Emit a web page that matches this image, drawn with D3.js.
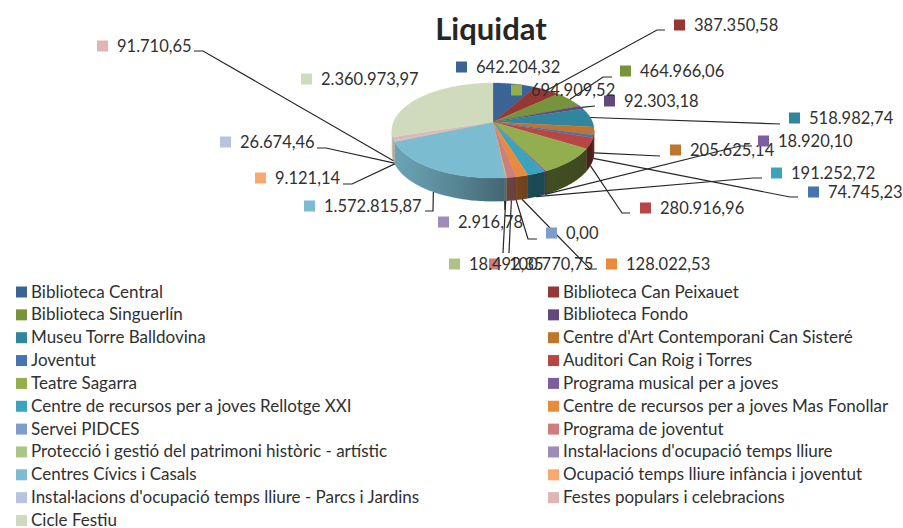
<!DOCTYPE html>
<html><head><meta charset="utf-8">
<script src="https://cdn.jsdelivr.net/npm/d3@7"></script>
<style>html,body{margin:0;padding:0;background:#fff}svg{display:block}</style>
</head><body><div id="c"></div>
<script>
const chartTitle = "Liquidat";
const categories = ["Biblioteca Central","Biblioteca Can Peixauet","Biblioteca Singuerlín","Biblioteca Fondo","Museu Torre Balldovina","Centre d'Art Contemporani Can Sisteré","Joventut","Auditori Can Roig i Torres","Teatre Sagarra","Programa musical per a joves","Centre de recursos per a joves Rellotge XXI","Centre de recursos per a joves Mas Fonollar","Servei PIDCES","Programa de joventut","Protecció i gestió del patrimoni històric - artístic","Instal·lacions d'ocupació temps lliure","Centres Cívics i Casals","Ocupació temps lliure infància i joventut","Instal·lacions d'ocupació temps lliure - Parcs i Jardins","Festes populars i celebracions","Cicle Festiu"];
const values = [642204.32,387350.58,464966.06,92303.18,518982.74,205625.14,74745.23,280916.96,694909.52,18920.10,191252.72,128022.53,0,100770.75,18492.35,2916.78,1572815.87,9121.14,26674.46,91710.65,2360973.97];
const colors = ["#3A6496","#953735","#77933C","#604A7B","#31859C","#C0752E","#4674B0","#B84644","#93AE4E","#7D5E9F","#3BA3BC","#E98B3C","#7F9CCB","#CC7F7C","#ADC487","#9D8BB8","#7BBCD0","#F8A96F","#B7C3DF","#E0B6B5","#CFDBBC"];
// label layout: swatch left, swatch centre y
const labelX = [456,674,620,604,789,670,808,640,511,758,771,606,546,489,449,438,304,255,220,97,301];
const labelY = [67,25,71,101,118,150,192,208,90,141,173,264,233,264,264,222,206,178,142,46,79];
// leader routes after the anchor on the pie
const routes = [null,[[657,30],[665,30]],[[603,77],[612,77]],[[595,106]],[[780,124]],[[660,156]],[[790,197],[798,197]],[[622,213],[630,213]],null,[[740,146],[752,146]],[[753,178],[762,178]],[[590,269],[597,269]],[[528,239],[537,239]],[[509,253]],[[503,253]],[[505,210]],[[433,211],[425,211]],[[352,184],[343,184]],[[326,148],[317,148]],[[203,51],[194,51]],null];

const W=903,H=528,cx=493,cy=122,a=46,b=99.5,p=0.179;
const svg=d3.select("#c").append("svg").attr("width",W).attr("height",H)
  .style("font-family","Lato, 'Noto Sans', sans-serif");
const fmt=d3.formatLocale({decimal:",",thousands:".",grouping:[3],currency:["","€"]}).format(",.2f");
const arcs=d3.pie().sort(null).value(d=>d)(values);

const rim=t=>{const s=Math.sin(t),c=Math.cos(t),k=1+p*c;return [cx+b*s/k,cy-a*c/k];};
const depth=t=>21.5-1.8*Math.cos(t);
const down=t=>{const q=rim(t);return [q[0],q[1]+depth(t)];};
const line=d3.line();
const steps=(t0,t1)=>{const n=Math.max(2,Math.ceil((t1-t0)/0.02));return d3.range(n+1).map(i=>t0+(t1-t0)*i/n);};

const defs=svg.append("defs");
const g=defs.append("linearGradient").attr("id","shade").attr("gradientUnits","userSpaceOnUse")
  .attr("x1",cx-b-2).attr("x2",cx+b+2).attr("y1",0).attr("y2",0);
[[0,.12],[.3,.28],[.55,.45],[.7,.55],[1,.58]].forEach(s=>g.append("stop").attr("offset",s[0]).attr("stop-color","#000").attr("stop-opacity",s[1]));

// side wall
const vis0=Math.PI-Math.acos(p), vis1=Math.PI+Math.acos(p);
const wallPath=d=>{
  const t0=Math.max(d.startAngle,vis0),t1=Math.min(d.endAngle,vis1);
  if(t1<=t0) return null;
  const ts=steps(t0,t1);
  return line(ts.map(rim).concat(ts.slice().reverse().map(down)))+"Z";
};
const walls=arcs.filter(d=>wallPath(d));
svg.append("g").selectAll("path").data(walls).join("path").attr("d",wallPath)
  .attr("fill",d=>colors[d.index]).attr("stroke",d=>colors[d.index]).attr("stroke-width",.3);
svg.append("g").selectAll("path").data(walls).join("path").attr("d",wallPath).attr("fill","url(#shade)");

// top face
svg.append("g").selectAll("path").data(arcs.filter(d=>d.value>0)).join("path")
  .attr("d",d=>line([[cx,cy]].concat(steps(d.startAngle,d.endAngle).map(rim)))+"Z")
  .attr("fill",d=>colors[d.index]).attr("stroke",d=>colors[d.index]).attr("stroke-width",.3);

// leaders
svg.append("g").selectAll("path").data(arcs.filter(d=>routes[d.index])).join("path")
  .attr("d",d=>{const m=(d.startAngle+d.endAngle)/2;const s=Math.cos(m)>=0?rim(m):down(m);return line([s].concat(routes[d.index]));})
  .attr("fill","none").attr("stroke","#262626").attr("stroke-width",1.2);

// title
svg.append("text").attr("x",491).attr("y",40).attr("text-anchor","middle").attr("font-size",31).attr("font-weight",700).attr("fill","#262626").text(chartTitle);

// data labels
const lab=svg.append("g").selectAll("g").data(arcs).join("g");
lab.append("rect").attr("x",d=>labelX[d.index]).attr("y",d=>labelY[d.index]-5.5).attr("width",11).attr("height",11).attr("fill",d=>colors[d.index]);
lab.append("text").attr("x",d=>labelX[d.index]+20).attr("y",d=>labelY[d.index]+6).attr("font-size",16.5).attr("fill","#303030").text(d=>fmt(d.value));

// legend
const rowY=d3.scaleLinear().domain([0,1]).range([292,314.85]);
const leg=svg.append("g").selectAll("g").data(categories).join("g");
const colX=i=>i%2?548:16;
const rowOf=i=>Math.floor(i/2);
leg.append("rect").attr("x",(d,i)=>colX(i)).attr("y",(d,i)=>rowY(rowOf(i))-5.5).attr("width",11).attr("height",11).attr("fill",(d,i)=>colors[i]);
leg.append("text").attr("x",(d,i)=>colX(i)+15).attr("y",(d,i)=>rowY(rowOf(i))+5.5).attr("font-size",17).attr("fill","#303030").text(d=>d);
</script></body></html>
